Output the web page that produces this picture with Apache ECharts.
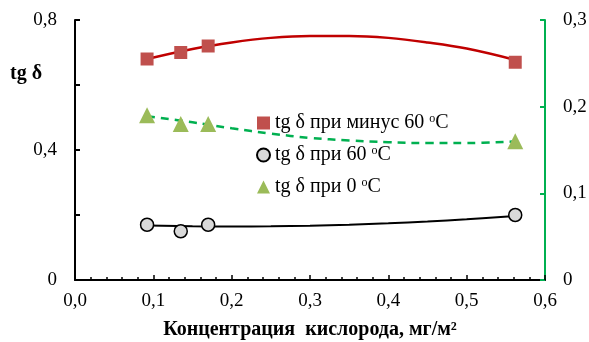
<!DOCTYPE html>
<html>
<head>
<meta charset="utf-8">
<script src="https://cdn.jsdelivr.net/npm/echarts@6/dist/echarts.min.js"></script>
<style>
  html, body { margin: 0; padding: 0; background: #fff; }
  #chart { width: 589px; height: 342px; }
</style>
</head>
<body>
<div id="chart"></div>
<script>
// Oxygen concentration, mg/m2 (x) for measured samples
const conc = [0.092, 0.135, 0.170, 0.562];
// Loss tangent at -60 C, +60 C (left axis) and at 0 C (right axis)
const tgMinus60 = [0.68, 0.70, 0.72, 0.67];
const tgPlus60 = [0.17, 0.15, 0.17, 0.20];
const tgZero = [0.19, 0.18, 0.18, 0.16];

// Trend curves (polynomial fits), sampled along x
const trendX = [0.092, 0.15, 0.2, 0.25, 0.3, 0.35, 0.4, 0.45, 0.5, 0.562];
const trendMinus60 = [0.680, 0.711, 0.731, 0.745, 0.751, 0.751, 0.745, 0.731, 0.712, 0.677];
const trendPlus60 = [0.168, 0.1655, 0.1647, 0.1652, 0.167, 0.170, 0.1743, 0.180, 0.1868, 0.197];
const trendZero = [0.189, 0.182, 0.175, 0.169, 0.164, 0.161, 0.159, 0.158, 0.158, 0.160];

// Tick labels
const xTicks = ['0,0', '0,1', '0,2', '0,3', '0,4', '0,5', '0,6'];
const leftTicks = { 0: '0', 0.4: '0,4', 0.8: '0,8' };
const rightTicks = ['0', '0,1', '0,2', '0,3'];

const names = ['tg δ при минус 60 ºC', 'tg δ при 60 ºC', 'tg δ при 0 ºC'];

const FONT = "'Liberation Serif', 'Times New Roman', serif";
const pairs = (xs, ys) => xs.map((x, i) => [x, ys[i]]);

const chart = echarts.init(document.getElementById('chart'), null, { renderer: 'canvas' });

chart.setOption({
  animation: false,
  backgroundColor: '#fff',
  textStyle: { fontFamily: FONT },
  grid: { left: 75, right: 44, top: 20, bottom: 62, containLabel: false, outerBoundsMode: 'none' },
  xAxis: {
    type: 'value', min: 0, max: 0.6, interval: 0.1,
    name: 'Концентрация  кислорода, мг/м²',
    nameLocation: 'middle', nameGap: 40,
    nameTextStyle: { fontFamily: FONT, fontSize: 20, fontWeight: 'bold', color: '#000' },
    axisLine: { lineStyle: { color: '#000', width: 2 } },
    axisTick: { inside: true, length: 5, lineStyle: { color: '#000', width: 1.5 } },
    minorTick: { show: true, splitNumber: 5, length: 3, lineStyle: { color: '#000', width: 1.5 } },
    splitLine: { show: false },
    axisLabel: {
      margin: 12, fontFamily: FONT, fontSize: 19, color: '#000',
      formatter: v => xTicks[Math.round(v * 10)]
    }
  },
  yAxis: [
    {
      type: 'value', min: 0, max: 0.8, interval: 0.2, position: 'left',
      axisLine: { show: true, lineStyle: { color: '#000', width: 2 } },
      axisTick: { show: true, inside: true, length: 5, lineStyle: { color: '#000', width: 2 } },
      splitLine: { show: false },
      axisLabel: {
        margin: 18, fontFamily: FONT, fontSize: 19, color: '#000',
        formatter: v => leftTicks[Math.round(v * 10) / 10] || ''
      }
    },
    {
      type: 'value', min: 0, max: 0.3, interval: 0.1, position: 'right',
      axisLine: { show: true, lineStyle: { color: '#00b050', width: 2 } },
      axisTick: { show: true, inside: true, length: 5, lineStyle: { color: '#00b050', width: 2 } },
      splitLine: { show: false },
      axisLabel: {
        margin: 18, fontFamily: FONT, fontSize: 19, color: '#000',
        formatter: v => rightTicks[Math.round(v * 10)]
      }
    }
  ],
  legend: {
    orient: 'vertical', left: 251, top: 108,
    itemWidth: 13, itemHeight: 13, itemGap: 12,
    data: names,
    formatter: n => {
      const i = n.lastIndexOf('º');
      return '{t|' + n.slice(0, i) + '}{sup|o}{t|' + n.slice(i + 1) + '}';
    },
    textStyle: {
      fontFamily: FONT, fontSize: 20, color: '#000',
      rich: {
        t: { fontFamily: FONT, fontSize: 20, color: '#000', lineHeight: 20, verticalAlign: 'bottom' },
        sup: { fontFamily: FONT, fontSize: 12, color: '#000', lineHeight: 14, verticalAlign: 'top' }
      }
    }
  },
  graphic: [
    {
      type: 'text', left: 10, top: 64,
      style: { text: 'tg δ', font: "bold 20px 'Liberation Serif', serif", fill: '#000' }
    }
  ],
  series: [
    {
      name: 'trend-60', type: 'line', yAxisIndex: 0, smooth: 0.4, showSymbol: false, symbol: 'none',
      data: pairs(trendX, trendMinus60), lineStyle: { color: '#c00000', width: 2.5 }, z: 2
    },
    {
      name: 'trend60', type: 'line', yAxisIndex: 0, smooth: 0.4, showSymbol: false, symbol: 'none',
      data: pairs(trendX, trendPlus60), lineStyle: { color: '#000', width: 2 }, z: 2
    },
    {
      name: 'trend0', type: 'line', yAxisIndex: 1, smooth: 0.4, showSymbol: false, symbol: 'none',
      data: pairs(trendX, trendZero), lineStyle: { color: '#00b050', width: 2.5, type: [8, 6] }, z: 2
    },
    {
      name: names[0], type: 'scatter', yAxisIndex: 0, symbol: 'rect', symbolSize: 13,
      data: pairs(conc, tgMinus60), itemStyle: { color: '#c0504d', opacity: 1 }, z: 3
    },
    {
      name: names[1], type: 'scatter', yAxisIndex: 0, symbol: 'circle', symbolSize: 13,
      data: pairs(conc, tgPlus60), itemStyle: { color: '#d9d9d9', borderColor: '#000', borderWidth: 1.5, opacity: 1 }, z: 3
    },
    {
      name: names[2], type: 'scatter', yAxisIndex: 1, symbol: 'triangle', symbolSize: 16,
      data: pairs(conc, tgZero), itemStyle: { color: '#9bbb59', opacity: 1 }, z: 3
    }
  ]
});
</script>
</body>
</html>
